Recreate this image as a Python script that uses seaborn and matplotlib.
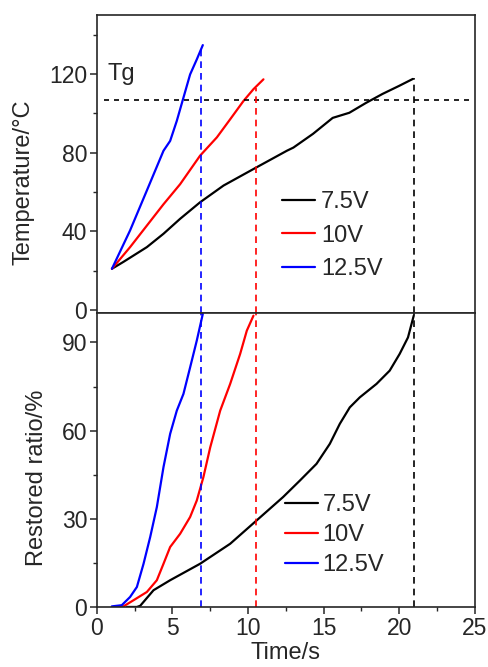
import numpy as np
import pandas as pd
import seaborn as sns
import matplotlib
matplotlib.use("Agg")
import matplotlib.pyplot as plt
from matplotlib.ticker import MultipleLocator

# --- temperature vs time (top panel)
temp_t_75 = [1.0, 1.76, 3.31, 4.41, 5.51, 6.83, 8.38, 10.36, 12.57, 13.0, 14.3, 15.6, 16.7, 17.8, 18.9, 20.0, 20.9]
temp_75 = [21, 24.5, 32, 38.8, 46.4, 54.8, 63.3, 71.7, 81, 82.6, 89.6, 97.7, 100.3, 105.3, 109.9, 114, 117.5]
temp_t_10 = [1.0, 2.2, 4.41, 5.51, 6.83, 7.94, 8.82, 9.7, 10.36, 11.02]
temp_10 = [21, 32, 53.8, 64, 78.5, 87.8, 97, 106.3, 112.3, 117.3]
temp_t_125 = [1.0, 2.2, 3.31, 4.41, 4.85, 5.29, 5.73, 6.17, 6.61, 7.01]
temp_125 = [21, 40.5, 60.8, 81, 86, 96.2, 108, 119.8, 127.4, 134.7]

# --- restored ratio vs time (bottom panel)
ratio_t_75 = [2.0, 2.65, 2.87, 3.75, 4.85, 6.83, 8.82, 10.56, 12.32, 13.43, 14.53, 15.41, 16.07,
              16.73, 17.39, 18.5, 19.37, 20.03, 20.58, 20.96]
ratio_75 = [0, 0, 0.4, 5.7, 9.1, 14.7, 21.5, 29.4, 37.4, 43, 48.7, 55.5, 62.3,
            67.9, 71.3, 75.9, 80.4, 86.1, 91.7, 99.1]
ratio_t_10 = [1.4, 1.76, 2.43, 3.31, 3.97, 4.41, 4.85, 5.51, 6.17, 6.61, 7.05, 7.5, 8.16,
              8.82, 9.48, 9.92, 10.36]
ratio_10 = [0, 0.2, 2.3, 5.1, 9.1, 14.7, 20.4, 24.9, 30.6, 36.2, 44.2, 54.3, 66.8,
            75.9, 86.1, 94, 99.1]
ratio_t_125 = [0.99, 1.65, 2.2, 2.65, 3.09, 3.53, 3.97, 4.41, 4.85, 5.29, 5.73, 6.17, 6.61, 7.01]
ratio_125 = [0.2, 0.6, 3.4, 6.8, 14.7, 23.8, 34, 47.6, 58.9, 66.8, 72.5, 81.5, 90.6, 99.7]

voltages = ["7.5V", "10V", "12.5V"]
colors = {"7.5V": "black", "10V": "red", "12.5V": "blue"}
end_times = [21.0, 10.5, 6.9]       # full recovery time per voltage
end_temps = [118, 113, 134]         # temperature where the dashed drop line starts
tg = 107

sns.set_style("ticks")
plt.rcParams["font.family"] = ["Liberation Sans", "DejaVu Sans"]
plt.rcParams["font.size"] = 16


def long_df(pairs):
    parts = []
    for v, (t, y) in zip(voltages, pairs):
        parts.append(pd.DataFrame({"Time": t, "val": y, "Voltage": v}))
    return pd.concat(parts, ignore_index=True)


df_temp = long_df([(temp_t_75, temp_75), (temp_t_10, temp_10), (temp_t_125, temp_125)])
df_ratio = long_df([(ratio_t_75, ratio_75), (ratio_t_10, ratio_10), (ratio_t_125, ratio_125)])

fig = plt.figure(figsize=(4.89, 6.67), dpi=100)
ax1 = fig.add_axes([0.198, 0.5307, 0.773, 0.4468])
ax2 = fig.add_axes([0.198, 0.0900, 0.773, 0.4407])

for ax, df in ((ax1, df_temp), (ax2, df_ratio)):
    sns.lineplot(data=df, x="Time", y="val", hue="Voltage", palette=colors,
                 sort=False, estimator=None, lw=1.6, ax=ax)
    ax.set_xlim(0, 25)
    for s in ax.spines.values():
        s.set_linewidth(1.2)
    ax.tick_params(which="major", direction="out", length=5, width=1.1, labelsize=16.5, pad=2)
    ax.tick_params(which="minor", direction="out", length=3, width=1.0)

# top panel
ax1.set_ylim(-1.5, 150)
ax1.yaxis.set_major_locator(MultipleLocator(40))
ax1.yaxis.set_minor_locator(MultipleLocator(20))
ax1.tick_params(axis="x", which="both", bottom=False, labelbottom=False)
ax1.set_xlabel("")
ax1.set_ylabel("Temperature/°C", fontsize=17)
ax1.yaxis.set_label_coords(-0.165, 0.44)
ax1.hlines(tg, 0.5, 24.7, colors="black", linestyles=(0, (3, 3)), lw=1.2)
ax1.text(0.7, 120, "Tg", fontsize=17, ha="left", va="center")
for t, y0, v in zip(end_times, end_temps, voltages):
    ax1.vlines(t, -1.5, y0, colors=colors[v], linestyles=(0, (4, 3)), lw=1.2)
ax1.legend(loc="upper left", bbox_to_anchor=(0.49, 0.41), frameon=False, fontsize=17,
           handlelength=1.4, handletextpad=0.25, borderpad=0, borderaxespad=0,
           labelspacing=0.5)

# bottom panel
ax2.set_ylim(0, 100)
ax2.yaxis.set_major_locator(MultipleLocator(30))
ax2.yaxis.set_minor_locator(MultipleLocator(15))
ax2.xaxis.set_major_locator(MultipleLocator(5))
ax2.xaxis.set_minor_locator(MultipleLocator(2.5))
ax2.set_xlabel("Time/s", fontsize=17, labelpad=1.5)
ax2.set_ylabel("Restored ratio/%", fontsize=17)
ax2.yaxis.set_label_coords(-0.13, 0.44)
for t, v in zip(end_times, voltages):
    ax2.vlines(t, 0, 100, colors=colors[v], linestyles=(0, (4, 3)), lw=1.2)
ax2.legend(loc="upper left", bbox_to_anchor=(0.497, 0.383), frameon=False, fontsize=17,
           handlelength=1.4, handletextpad=0.2, borderpad=0, borderaxespad=0,
           labelspacing=0.33)

fig.savefig("out.png", dpi=100)
